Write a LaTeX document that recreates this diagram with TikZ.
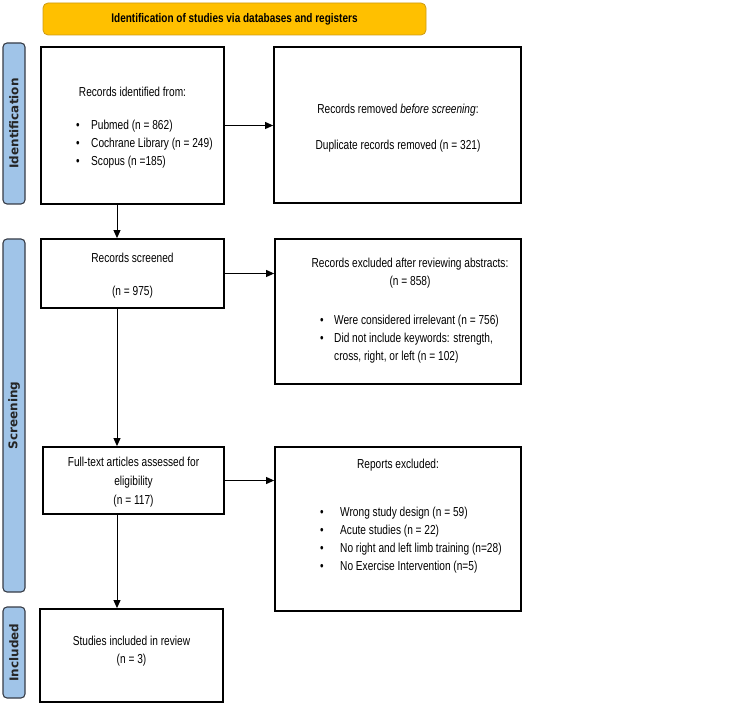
\documentclass[tikz,border=0pt]{standalone}
\usepackage{fontspec}
\setmainfont{Liberation Sans}[FakeStretch=0.78]
\newfontfamily\phasefont{DejaVu Sans}
\newfontfamily\bannerfont{Liberation Sans}[FakeStretch=0.8]
\usetikzlibrary{arrows.meta, positioning}
\definecolor{banner}{RGB}{255,192,0}
\definecolor{bannerline}{RGB}{205,155,20}
\definecolor{phasefill}{RGB}{160,196,232}
\definecolor{phaseline}{RGB}{55,60,70}

\tikzset{
  box/.style={draw, line width=1.8pt, inner sep=0pt},
  phasebar/.style={draw=phaseline, fill=phasefill, rounded corners=4pt, line width=1.1pt,
    rotate=90, minimum height=22pt, inner sep=0pt,
    font=\phasefont\bfseries\fontsize{12}{14}\selectfont, text=black!85},
  txt/.style={font=\fontsize{13}{18}\selectfont, inner sep=0pt, align=center},
  lst/.style={font=\fontsize{13}{18}\selectfont, inner sep=0pt, align=left, anchor=west},
  flow/.style={-{Triangle[length=8pt, width=7pt]}, line width=1pt}
}
\newcommand{\bul}{\makebox[15pt][l]{•}}

\begin{document}
\begin{tikzpicture}[x=1pt, y=-1pt]
  \useasboundingbox (0,0) rectangle (749,708);

  \node[draw=bannerline, fill=banner, rounded corners=5pt, line width=0.8pt,
    minimum width=383pt, minimum height=32pt, inner sep=0pt,
    font=\bannerfont\bfseries\fontsize{12.5}{15}\selectfont] (banner) at (234.5,19)
    {Identification of studies via databases and registers};

  \newcommand{\phase}[4]{%
    \node[phasebar, minimum width=#3] (#1) at (14,#2) {#4};}
  \phase{idbar}{123.5}{161pt}{Identification}
  \phase{scrbar}{415.5}{353pt}{Screening}
  \phase{incbar}{652.5}{91pt}{Included}

  \node[box, minimum width=183pt, minimum height=157pt] (ident) at (132.5,125.5) {};
  \node[box, minimum width=247pt, minimum height=156pt] (removed) at (397.5,125) {};
  \node[box, minimum width=183pt, minimum height=69pt] (screened) at (132.5,273.5) {};
  \node[box, minimum width=246pt, minimum height=145pt] (excluded) at (398,311.5) {};
  \node[box, minimum width=181pt, minimum height=67pt] (fulltext) at (133.5,480.5) {};
  \node[box, minimum width=246pt, minimum height=164pt] (reports) at (398,529) {};
  \node[box, minimum width=183pt, minimum height=93pt] (included) at (131.5,655.5) {};

  \node[txt] (identhead) at (132.5,92) {Records identified from:};
  \node[lst] (identlist) at (76,144)
    {\bul Pubmed (n = 862)\\ \bul Cochrane Library (n = 249)\\ \bul Scopus (n =185)};

  \node[txt] (removedhead) at (398,110) {Records removed \textit{before screening}:};
  \node[txt] (removedn) at (398,146) {Duplicate records removed (n = 321)};

  \node[txt] (screenedhead) at (132.5,258) {Records screened};
  \node[txt] (screenedn) at (132.5,292) {(n = 975)};

  \node[txt] (excludedhead) at (410,273) {Records excluded after reviewing abstracts:\\(n = 858)};
  \node[lst] (excludedlist) at (320,339.5)
    {\makebox[14pt][l]{•}Were considered irrelevant (n = 756)\\
     \makebox[14pt][l]{•}Did not include keywords: strength,\\
     \hspace*{14pt}cross, right, or left (n = 102)};

  \node[txt, font=\fontsize{13}{19}\selectfont] (fulltexthead) at (133.5,482)
    {Full-text articles assessed for\\eligibility\\(n = 117)};

  \node[txt] (reportshead) at (398,465) {Reports excluded:};
  \node[lst] (reportslist) at (320,540)
    {\makebox[20pt][l]{•}Wrong study design (n = 59)\\
     \makebox[20pt][l]{•}Acute studies (n = 22)\\
     \makebox[20pt][l]{•}No right and left limb training (n=28)\\
     \makebox[20pt][l]{•}No Exercise Intervention (n=5)};

  \node[txt] (includedhead) at (131.5,651) {Studies included in review\\(n = 3)};

  \coordinate (spine) at (117,0);
  \draw[flow] (ident.east) -- (ident.east -| removed.west);
  \draw[flow] (screened.east) -- (screened.east -| excluded.west);
  \draw[flow] (fulltext.east) -- (fulltext.east -| reports.west);
  \draw[flow] (spine |- ident.south) -- (spine |- screened.north);
  \draw[flow] (spine |- screened.south) -- (spine |- fulltext.north);
  \draw[flow] (spine |- fulltext.south) -- (spine |- included.north);
\end{tikzpicture}
\end{document}
